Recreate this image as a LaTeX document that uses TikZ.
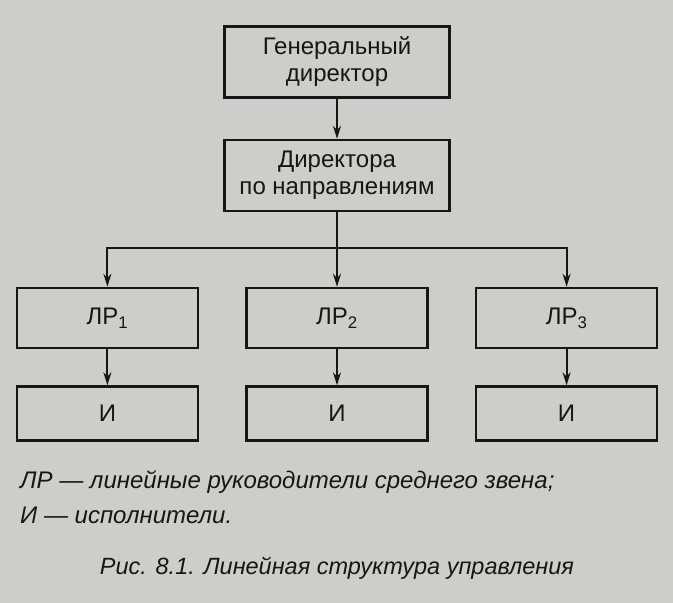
\documentclass[tikz,border=0pt]{standalone}
\usepackage{fontspec}
\setmainfont{Liberation Sans}
\usepackage{tikz}
\usetikzlibrary{positioning,arrows.meta,calc}
\definecolor{PageGray}{HTML}{CDCDCB}
\definecolor{InkDark}{HTML}{161616}
\tikzset{headbox/.style={draw=InkDark, line width=2.6pt, align=center, minimum width=225pt, minimum height=71pt, font=\fontsize{24}{27}\selectfont, text=InkDark}, linebox/.style={draw=InkDark, line width=2.6pt, align=center, minimum width=181pt, minimum height=60pt, font=\fontsize{24}{27}\selectfont, text=InkDark}, execbox/.style={draw=InkDark, line width=2.6pt, align=center, minimum width=181pt, minimum height=54pt, font=\fontsize{24}{27}\selectfont, text=InkDark}, orgarrow/.style={-{Stealth[length=13pt,width=8pt]}, line width=1.9pt, draw=InkDark}, orgline/.style={line width=1.9pt, draw=InkDark}, notetext/.style={anchor=west, inner sep=0pt, font=\fontsize{24}{28}\selectfont\itshape, text=InkDark}}

\begin{document}
\begin{tikzpicture}[x=1pt, y=1pt]
\fill[PageGray] (0,0) rectangle (673,-603);
\useasboundingbox (0,0) rectangle (673,-603);
\node[headbox] (gen) at (337,-62) {Генеральный\\директор};
\node[headbox, below=40pt of gen] (dir) {Директора\\по направлениям};
\node[linebox] (lr2) at (337,-318) {ЛР\textsubscript{2}};
\node[linebox, left=46pt of lr2] (lr1) {ЛР\textsubscript{1}};
\node[linebox, right=46pt of lr2] (lr3) {ЛР\textsubscript{3}};
\node[execbox, below=36pt of lr1] (i1) {И};
\node[execbox, below=36pt of lr2] (i2) {И};
\node[execbox, below=36pt of lr3] (i3) {И};
\coordinate (split) at ($(dir.south)+(0,-36pt)$);
\node[notetext] (note1) at (20,-482) {ЛР --- линейные руководители среднего звена;};
\node[notetext] (note2) at (20,-515) {И --- исполнители.};
\node[font=\fontsize{23.5}{27}\selectfont\itshape, text=InkDark] (caption) at (337,-568) {Рис. 8.1. Линейная структура управления};
\draw[orgarrow] (gen) -- (dir);
\draw[orgline] (dir) -- (split);
\draw[orgarrow] (split) -| (lr1);
\draw[orgarrow] (split) -- (lr2);
\draw[orgarrow] (split) -| (lr3);
\draw[orgarrow] (lr1) -- (i1);
\draw[orgarrow] (lr2) -- (i2);
\draw[orgarrow] (lr3) -- (i3);
\end{tikzpicture}
\end{document}
